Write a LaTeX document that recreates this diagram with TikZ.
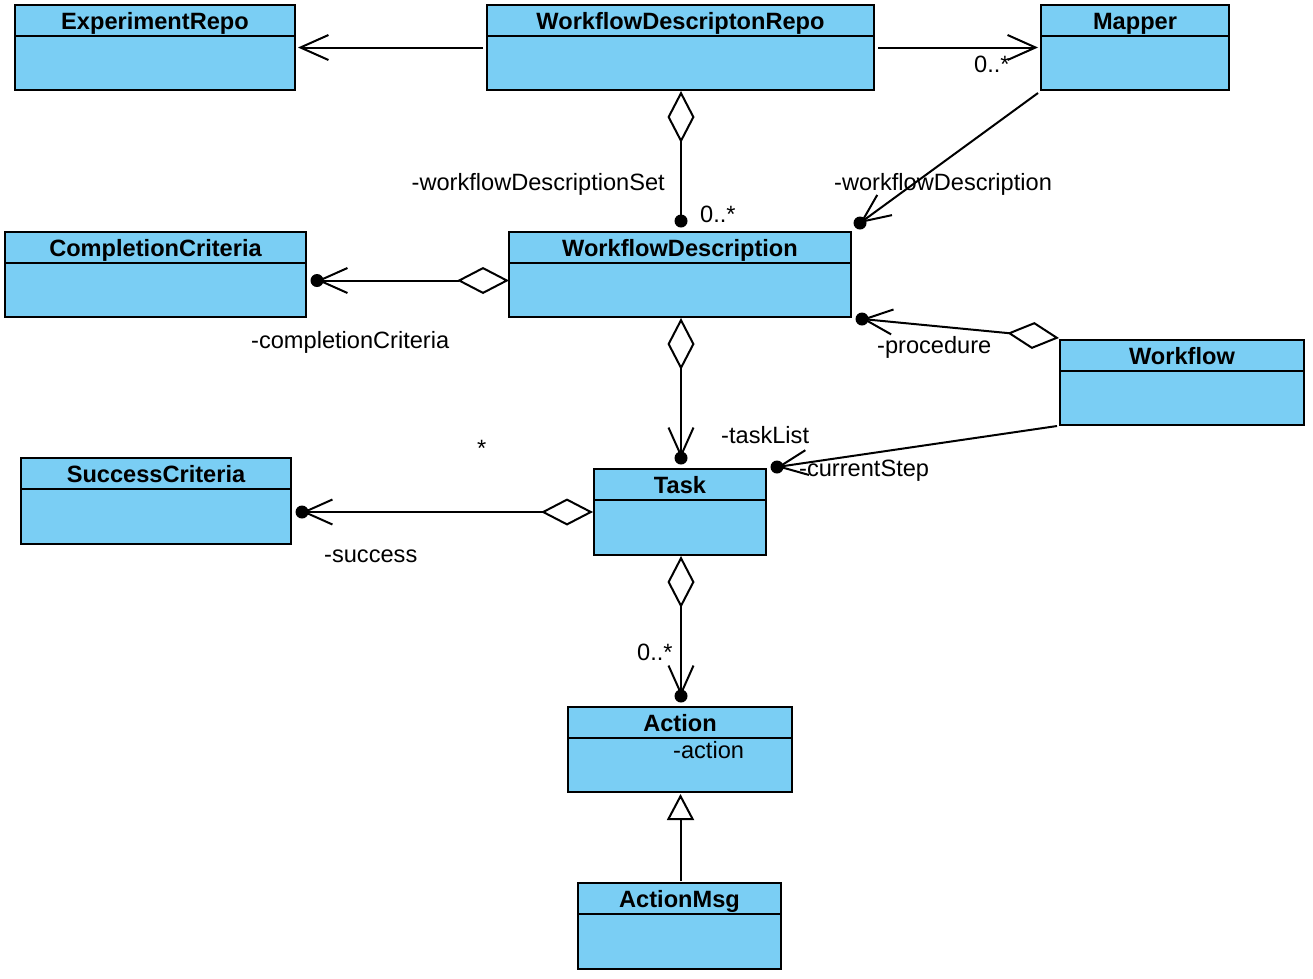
\documentclass[tikz,border=0pt]{standalone}
\usepackage{fontspec}
\setmainfont{Liberation Sans}
\usetikzlibrary{arrows.meta,fit,calc}
\definecolor{classfill}{RGB}{122,206,244}
\newcommand\umlclass[6]{%
  \node[classbox, fit={(#2,#3) (#4,#5)}] (#1) {};
  \draw[line width=2pt] ([yshift=-32pt]#1.north west) -- ([yshift=-32pt]#1.north east);
  \node[ctitle] at ([yshift=-25.5pt]#1.north) {#6};}
\begin{document}
\begin{tikzpicture}[x=1pt,y=-1pt,
  classbox/.style={draw,fill=classfill,line width=2pt,inner sep=0pt},
  ctitle/.style={font=\fontsize{23.6pt}{28pt}\selectfont\bfseries, inner sep=0pt, anchor=base},
  lbl/.style={font=\fontsize{23.6pt}{28pt}\selectfont, inner sep=0pt},
  conn/.style={line width=2pt},
  nav/.style={-{Straight Barb[length=28pt,width=25pt]}},
  aggr/.style={{Diamond[fill=white,length=52pt,width=27pt]}-},
  aggrnav/.style={{Diamond[fill=white,length=52pt,width=27pt]}-{Straight Barb[length=28pt,width=25pt]}},
  gen/.style={-{Triangle[fill=white,length=26pt,width=27pt]}},
  enddot/.style={fill=black}
]
\useasboundingbox (0,0) rectangle (1313,978);

% classes
\umlclass{er}{15}{5}{295}{90}{ExperimentRepo}
\umlclass{wdr}{487}{5}{874}{90}{WorkflowDescriptonRepo}
\umlclass{map}{1041}{5}{1229}{90}{Mapper}
\umlclass{cc}{5}{232}{306}{317}{CompletionCriteria}
\umlclass{wd}{509}{232}{851}{317}{WorkflowDescription}
\umlclass{wf}{1060}{340}{1304}{425}{Workflow}
\umlclass{sc}{21}{458}{291}{544}{SuccessCriteria}
\umlclass{task}{594}{469}{766}{555}{Task}
\umlclass{act}{568}{707}{792}{792}{Action}
\umlclass{am}{578}{883}{781}{969}{ActionMsg}

% end coordinates
\coordinate (d3) at ([shift={(1,-10)}]wd.north);
\coordinate (d4) at ([shift={(8,-8)}]wd.north east);
\coordinate (d5) at ([shift={(10,6)}]cc.east);
\coordinate (d6) at ([shift={(1,-10)}]task.north);
\coordinate (d7) at ([shift={(10,1)}]wd.south east);
\coordinate (d8) at ([shift={(10,-1)}]task.north east);
\coordinate (d9) at ([shift={(10,11)}]sc.east);
\coordinate (d10) at ([shift={(1,-10)}]act.north);

% connectors
\draw[conn,nav] ([shift={(-3,0)}]wdr.west) -- ([shift={(2,0)}]er.east);
\draw[conn,nav] ([shift={(3,0)}]wdr.east) -- ([shift={(-2,0)}]map.west);
\draw[conn,aggr] ([shift={(0.5,0)}]wdr.south) -- (d3);
\draw[conn,nav] ([shift={(-2,2)}]map.south west) -- (d4);
\draw[conn,aggrnav] ([shift={(1,6)}]wd.west) -- (d5);
\draw[conn,aggrnav] ([shift={(1,0)}]wd.south) -- (d6);
\draw[conn,aggrnav] ([shift={(0,-1)}]wf.north west) -- (d7);
\draw[conn,nav] ([shift={(-2,0)}]wf.south west) -- (d8);
\draw[conn,aggrnav] ([shift={(0,0)}]task.west) -- (d9);
\draw[conn,aggrnav] ([shift={(1,0)}]task.south) -- (d10);
\draw[conn,gen] ([shift={(1,-1)}]am.north) -- ([shift={(0.5,1)}]act.south);

\foreach \d in {d3,d4,d5,d6,d7,d8,d9,d10}
  \fill[enddot] (\d) circle[radius=6.5pt];

% labels
\node[lbl,anchor=base west] (l1) at (974,72) {0..*};
\node[lbl,anchor=base east] (l2) at (665,190) {-workflowDescriptionSet};
\node[lbl,anchor=base west] (l3) at (700,222) {0..*};
\node[lbl,anchor=base west] (l4) at (834,190) {-workflowDescription};
\node[lbl,anchor=base west] (l5) at (251,348) {-completionCriteria};
\node[lbl,anchor=base west] (l6) at (877,353) {-procedure};
\node[lbl,anchor=base west] (l7) at (721,443) {-taskList};
\node[lbl,anchor=base west] (l8) at (799,476) {-currentStep};
\node[lbl,anchor=base] (l9) at (481.7,456) {*};
\node[lbl,anchor=base west] (l10) at (324,562) {-success};
\node[lbl,anchor=base west] (l11) at (637,660) {0..*};
\node[lbl,anchor=base west] (l12) at (673,758) {-action};
\end{tikzpicture}
\end{document}
